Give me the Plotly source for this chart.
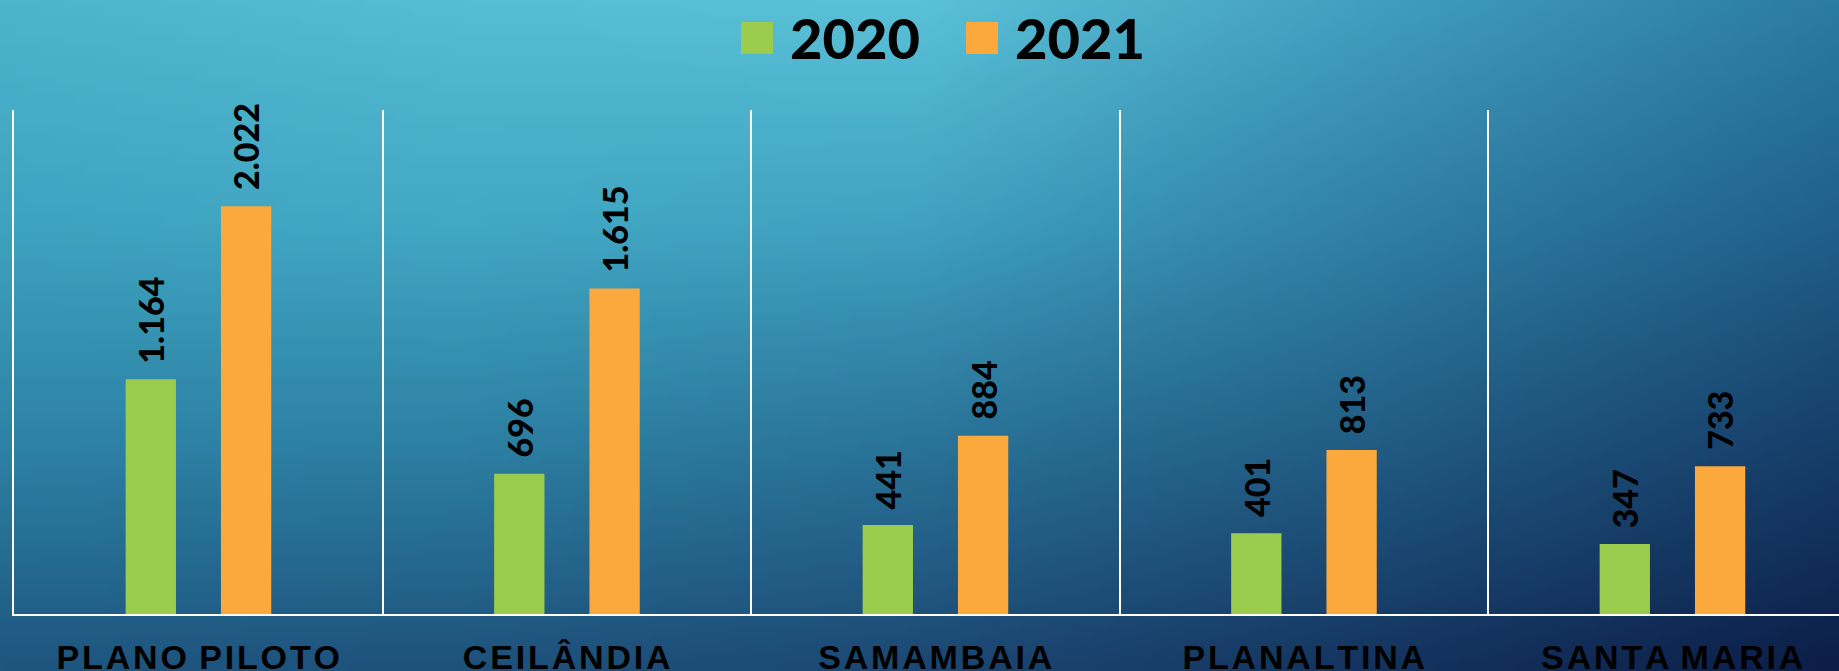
import base64
import struct
import zlib

import numpy as np
import plotly.graph_objects as go

# Regiões administrativas e valores por ano
regioes = ["PLANO PILOTO", "CEILÂNDIA", "SAMAMBAIA", "PLANALTINA", "SANTA MARIA"]
valores_2020 = [1164, 696, 441, 401, 347]
valores_2021 = [2022, 1615, 884, 813, 733]
anos = ["2020", "2021"]

W, H = 1839, 671
VERDE = "#9ccc4e"
LARANJA = "#fba83c"


def png_data_uri(rgb):
    """Encode an (h, w, 3) uint8 array as a PNG data URI."""
    h, w, _ = rgb.shape
    raw = b"".join(b"\x00" + rgb[r].tobytes() for r in range(h))

    def chunk(tag, data):
        c = tag + data
        return struct.pack(">I", len(data)) + c + struct.pack(">I", zlib.crc32(c) & 0xFFFFFFFF)

    png = b"\x89PNG\r\n\x1a\n"
    png += chunk(b"IHDR", struct.pack(">IIBBBBB", w, h, 8, 2, 0, 0, 0))
    png += chunk(b"IDAT", zlib.compress(raw, 9))
    png += chunk(b"IEND", b"")
    return "data:image/png;base64," + base64.b64encode(png).decode()


# Fundo em degradê: azul-claro no alto à esquerda até azul-marinho embaixo à direita
grade = np.array([
    [(78, 180, 205), (86, 189, 213), (90, 193, 216), (66, 158, 190), (42, 124, 160)],
    [(62, 163, 192), (66, 168, 196), (64, 162, 192), (48, 128, 165), (32, 96, 138)],
    [(45, 130, 165), (45, 128, 163), (42, 115, 152), (33, 92, 132), (22, 62, 105)],
    [(30, 86, 128), (30, 82, 124), (28, 72, 115), (20, 52, 95), (12, 30, 72)],
], dtype=float)
gh, gw = 68, 184
ys = np.linspace(0, grade.shape[0] - 1, gh)
xs = np.linspace(0, grade.shape[1] - 1, gw)
y0 = np.clip(np.floor(ys).astype(int), 0, grade.shape[0] - 2)
x0 = np.clip(np.floor(xs).astype(int), 0, grade.shape[1] - 2)
fy = (ys - y0)[:, None, None]
fx = (xs - x0)[None, :, None]
a = grade[y0][:, x0]
b = grade[y0][:, x0 + 1]
c = grade[y0 + 1][:, x0]
d = grade[y0 + 1][:, x0 + 1]
fundo = (a * (1 - fx) * (1 - fy) + b * fx * (1 - fy) + c * (1 - fx) * fy + d * fx * fy)
fundo = np.clip(fundo, 0, 255).astype(np.uint8)

# Geometria do gráfico (pixels)
left, bottom, top = 14, 57, 110
cat_px = 368.5
bar_w = 0.1365
off_2020 = -0.197
off_2021 = 0.0616
x_max = -0.5 + (W - left) / cat_px

fig = go.Figure()
for nome, vals, cor, off in [
    (anos[0], valores_2020, VERDE, off_2020),
    (anos[1], valores_2021, LARANJA, off_2021),
]:
    fig.add_trace(go.Bar(
        x=regioes, y=vals, name=nome, marker=dict(color=cor, line=dict(width=0)),
        width=bar_w, offset=off, showlegend=False, hoverinfo="skip",
    ))
    for i, v in enumerate(vals):
        fig.add_annotation(
            x=i + off + bar_w / 2, y=v, xref="x", yref="y",
            text=f"{v:,}".replace(",", "."), textangle=-90, showarrow=False,
            xanchor="center", yanchor="bottom", yshift=14,
            font=dict(family="Lato", size=34, color="black", weight=900),
        )

# Legenda desenhada no topo
for nome, cor, sq_x, tx_x in [(anos[0], VERDE, 741, 788), (anos[1], LARANJA, 966, 1013)]:
    fig.add_shape(type="rect", xref="paper", yref="paper",
                  x0=sq_x / W, x1=(sq_x + 32) / W, y0=1 - 54 / H, y1=1 - 22 / H,
                  fillcolor=cor, line=dict(width=0), layer="above")
    fig.add_annotation(x=tx_x / W, y=1 - 37 / H, xref="paper", yref="paper",
                       text=nome, showarrow=False, xanchor="left", yanchor="middle",
                       font=dict(family="Lato", size=56, color="black", weight=900))

# Rótulos das categorias com espaçamento estreito entre as letras
rotulos = ["\u200a".join(list(r)).replace("\u200a \u200a", " \u200a") for r in regioes]

fig.update_layout(
    width=W, height=H,
    margin=dict(l=0, r=0, t=0, b=0, autoexpand=False),
    paper_bgcolor="#1f5a85", plot_bgcolor="rgba(0,0,0,0)",
    barmode="overlay", separators=",.",
    images=[dict(source=png_data_uri(fundo), xref="paper", yref="paper",
                 x=0, y=1, sizex=1, sizey=1, sizing="stretch", layer="below")],
    xaxis=dict(
        domain=[left / W, 1], range=[-0.5, x_max], type="category",
        tickmode="array", tickvals=regioes, ticktext=rotulos,
        tickson="boundaries", ticks="", showgrid=True, gridcolor="white", gridwidth=2,
        showline=True, linecolor="white", linewidth=2, automargin=False,
        tickfont=dict(family="Liberation Sans", size=34, color="black", weight="bold"),
        ticklabelstandoff=12, fixedrange=True,
    ),
    yaxis=dict(
        domain=[bottom / H, 1 - top / H], range=[0, 2500], automargin=False,
        showgrid=False, zeroline=False, showticklabels=False, ticks="",
        showline=True, linecolor="white", linewidth=2, fixedrange=True,
    ),
)

fig.write_html("out.html")
